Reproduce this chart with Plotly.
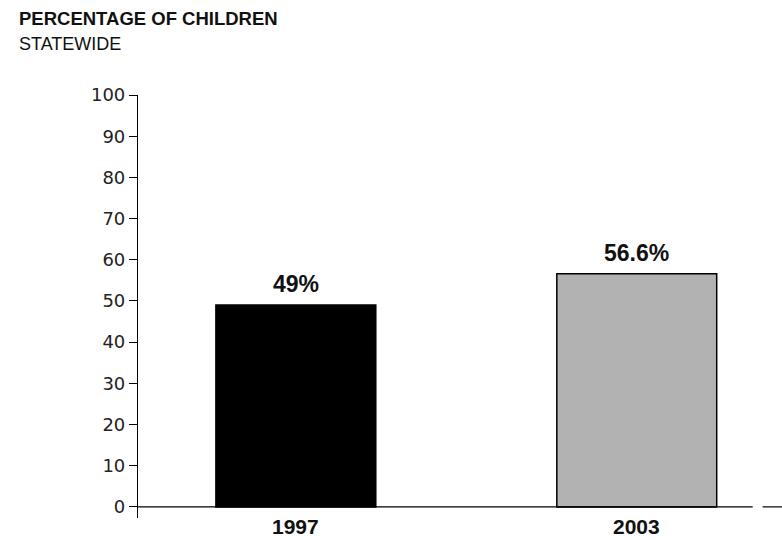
import plotly.graph_objects as go

years = ["1997", "2003"]
values = [49, 56.6]
labels = ["49%", "56.6%"]
colors = ["#000000", "#b2b2b2"]
y_ticks = [0, 10, 20, 30, 40, 50, 60, 70, 80, 90, 100]

FONT = "Liberation Sans, Arial, sans-serif"
x_pos = list(range(len(years)))

fig = go.Figure()
fig.add_trace(go.Bar(
    x=x_pos, y=values, width=0.469,
    marker=dict(color=colors, line=dict(color="#000000", width=1.5)),
    hoverinfo="skip",
))

# value labels above bars
for xi, v, lab in zip(x_pos, values, labels):
    fig.add_annotation(x=xi, y=v, text="<b>%s</b>" % lab, xref="x", yref="y",
                       yanchor="bottom", yshift=6, showarrow=False,
                       font=dict(family=FONT, size=23, color="#111111"))

# category labels below the axis
for xi, yr in zip(x_pos, years):
    fig.add_annotation(x=xi, y=0, text="<b>%s</b>" % yr, xref="x", yref="paper",
                       yanchor="top", yshift=4, showarrow=False, borderpad=0,
                       font=dict(family=FONT, size=21, color="#111111"))

# baseline with a break near the right edge
fig.add_shape(type="line", xref="x", yref="y", x0=-0.463, x1=1.340, y0=0, y1=0,
              line=dict(color="#000000", width=1.2))
fig.add_shape(type="line", xref="x", yref="y", x0=1.369, x1=1.43, y0=0, y1=0,
              line=dict(color="#000000", width=1.2))

fig.add_annotation(text="<b>PERCENTAGE OF CHILDREN</b>", xref="paper", yref="paper",
                   x=(17 - 138) / 644, y=(423 + 95 - 19) / 423, xanchor="left", yanchor="middle",
                   showarrow=False, font=dict(family=FONT, size=18.5, color="#111111"))
fig.add_annotation(text="STATEWIDE", xref="paper", yref="paper",
                   x=(17 - 138) / 644, y=(423 + 95 - 44) / 423, xanchor="left", yanchor="middle",
                   showarrow=False, font=dict(family=FONT, size=18, color="#111111"))

fig.update_layout(
    width=782, height=540,
    margin=dict(l=138, r=0, t=95, b=22),
    paper_bgcolor="white", plot_bgcolor="white",
    showlegend=False,
    xaxis=dict(range=[-0.463, 1.426], showticklabels=False,
               showline=False, showgrid=False, zeroline=False, ticks="",
               fixedrange=True),
    yaxis=dict(range=[-2.7, 100], tickvals=y_ticks, showgrid=False, zeroline=False,
               showline=True, linecolor="#000000", linewidth=1.2,
               ticks="outside", ticklen=8, tickcolor="#000000", tickwidth=1.2,
               tickfont=dict(family="DejaVu Sans, sans-serif", size=18, color="#222222"),
               fixedrange=True),
)

fig.write_html("out.html", config={"displayModeBar": False},
               post_script="document.body.style.margin='0';")
